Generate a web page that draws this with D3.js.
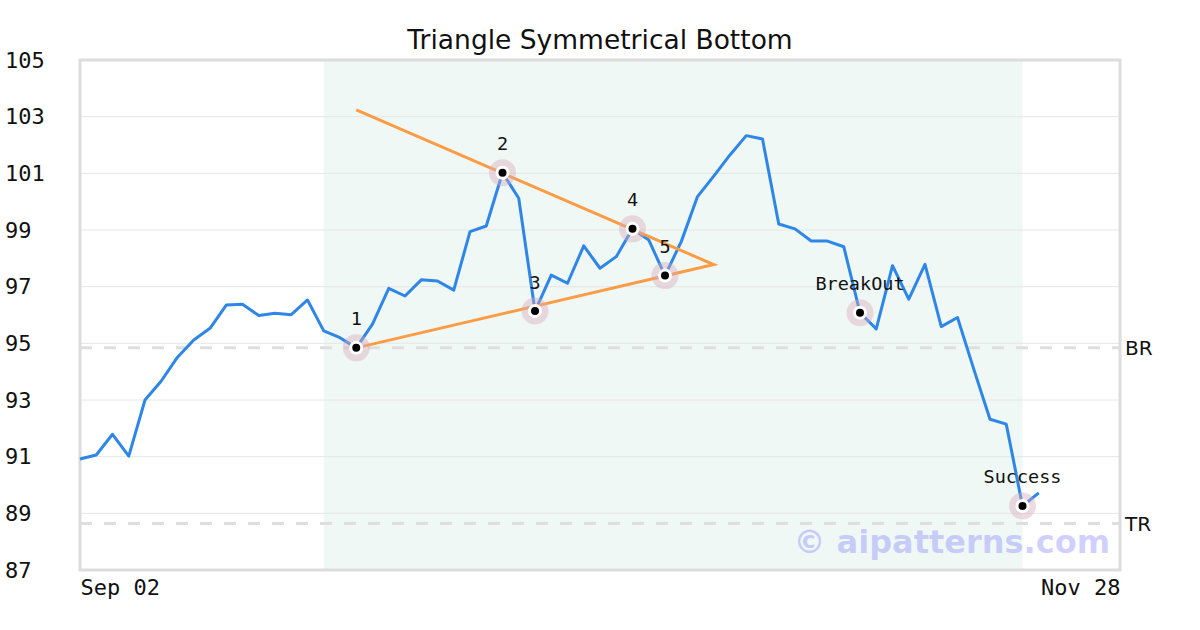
<!DOCTYPE html>
<html>
<head>
<meta charset="utf-8">
<script src="https://cdn.jsdelivr.net/npm/d3@7"></script>
<style>
  html, body { margin: 0; padding: 0; background: #fff; }
  svg { display: block; }
</style>
</head>
<body>
<svg id="chart" width="1200" height="630"></svg>
<script>
// ---- data ----
const titleText = "Triangle Symmetrical Bottom";
const xTickLabels = ["Sep 02", "Nov 28"];
const xTickIndex = [0, 64];
const yTicks = [87, 89, 91, 93, 95, 97, 99, 101, 103, 105];
const prices = [
  90.92, 91.06, 91.79, 91.02, 93.0, 93.67, 94.51, 95.12, 95.53, 96.35,
  96.38, 95.98, 96.06, 96.01, 96.53, 95.44, 95.2, 94.84, 95.68, 96.94,
  96.67, 97.24, 97.2, 96.88, 98.94, 99.14, 101.02, 100.12, 96.14, 97.41,
  97.12, 98.44, 97.65, 98.06, 99.04, 98.65, 97.39, 98.59, 100.18, 100.9,
  101.65, 102.33, 102.21, 99.21, 99.04, 98.61, 98.61, 98.41, 96.08, 95.51,
  97.74, 96.56, 97.79, 95.59, 95.91, 94.09, 92.32, 92.15, 89.26, 89.72
];
const markerIdx = [17, 26, 28, 34, 36, 48, 58];
const markerLabels = ["1", "2", "3", "4", "5", "BreakOut", "Success"];
const triangleIdx = [17, 39, 17];
const triangleVal = [103.24, 97.78, 94.84];
const levelNames = ["BR", "TR"];
const levelValues = [94.84, 88.64];
const bandIdx = [15, 58];
const watermark = "© aipatterns.com";

// ---- layout ----
const svg = d3.select("#chart");
const L = 80, R = 1120, T = 60, B = 570;
const x = d3.scaleLinear().domain([0, 64]).range([L, R]);
const y = d3.scaleLinear().domain([87, 105]).range([B, T]);
const mono = "'DejaVu Sans Mono', monospace";
const sans = "'DejaVu Sans', sans-serif";

// band
svg.append("rect")
  .attr("x", x(bandIdx[0])).attr("y", T)
  .attr("width", x(bandIdx[1]) - x(bandIdx[0])).attr("height", B - T)
  .attr("fill", "#eff8f5");

// grid
svg.append("g").selectAll("line").data(yTicks.slice(1, -1)).join("line")
  .attr("x1", L).attr("x2", R)
  .attr("y1", d => y(d)).attr("y2", d => y(d))
  .attr("stroke", "#e6e6e6").attr("stroke-width", 1);

// level dashed lines
svg.append("g").selectAll("line").data(levelValues).join("line")
  .attr("x1", L).attr("x2", R)
  .attr("y1", d => y(d)).attr("y2", d => y(d))
  .attr("stroke", "#dedede").attr("stroke-width", 3)
  .attr("stroke-dasharray", "12,12");
svg.append("g").selectAll("text").data(levelNames).join("text")
  .attr("x", R + 5).attr("y", (d, i) => y(levelValues[i]))
  .attr("dy", "0.35em")
  .attr("font-family", sans).attr("font-size", 20).attr("fill", "#111")
  .text(d => d);

// frame
svg.append("rect")
  .attr("x", L).attr("y", T).attr("width", R - L).attr("height", B - T)
  .attr("fill", "none").attr("stroke", "#dcdcdc").attr("stroke-width", 3);

// y axis labels
const yAxis = d3.axisLeft(y).tickValues(yTicks).tickSize(0).tickFormat(d3.format("d"));
const gy = svg.append("g").attr("transform", `translate(${L},0)`).call(yAxis);
gy.select(".domain").remove();
gy.selectAll("text")
  .attr("x", 5 - L).attr("text-anchor", "start")
  .attr("font-family", mono).attr("font-size", 22).attr("fill", "#111");

// x axis labels
const xAxis = d3.axisBottom(x).tickValues(xTickIndex).tickSize(0)
  .tickFormat((d, i) => xTickLabels[i]);
const gx = svg.append("g").attr("transform", `translate(0,${B})`).call(xAxis);
gx.select(".domain").remove();
gx.selectAll("text")
  .attr("y", 7).attr("dy", "0.8em")
  .attr("text-anchor", (d, i) => i === 0 ? "start" : "end")
  .attr("font-family", mono).attr("font-size", 22).attr("fill", "#111");

// price line
svg.append("path")
  .datum(prices)
  .attr("fill", "none").attr("stroke", "#2e86e8").attr("stroke-width", 3)
  .attr("stroke-linejoin", "round")
  .attr("d", d3.line().x((d, i) => x(i)).y(d => y(d)));

// triangle
svg.append("path")
  .datum(triangleIdx.map((d, i) => [d, triangleVal[i]]))
  .attr("fill", "none").attr("stroke", "#fd9c45").attr("stroke-width", 3)
  .attr("d", d3.line().x(d => x(d[0])).y(d => y(d[1])));

// markers
const mk = svg.append("g").selectAll("g").data(markerIdx).join("g")
  .attr("transform", d => `translate(${x(d)},${y(prices[d])})`);
mk.append("circle").attr("r", 13.5).attr("fill", "rgba(215,170,185,0.42)");
mk.append("circle").attr("r", 7).attr("fill", "#fff");
mk.append("circle").attr("r", 4).attr("fill", "#000");
mk.append("text")
  .attr("y", -29).attr("dy", "0.35em").attr("text-anchor", "middle")
  .attr("font-family", mono).attr("font-size", 18.5).attr("fill", "#111")
  .text((d, i) => markerLabels[i]);

// watermark
svg.append("text")
  .attr("x", 1110).attr("y", 553).attr("text-anchor", "end")
  .attr("font-family", sans).attr("font-weight", "bold").attr("font-size", 32)
  .attr("fill", "rgba(130,130,255,0.38)")
  .text(watermark);

// title
svg.append("text")
  .attr("x", 600).attr("y", 40).attr("dy", "0.35em").attr("text-anchor", "middle")
  .attr("font-family", sans).attr("font-size", 26.5).attr("fill", "#111")
  .text(titleText);
</script>
</body>
</html>
